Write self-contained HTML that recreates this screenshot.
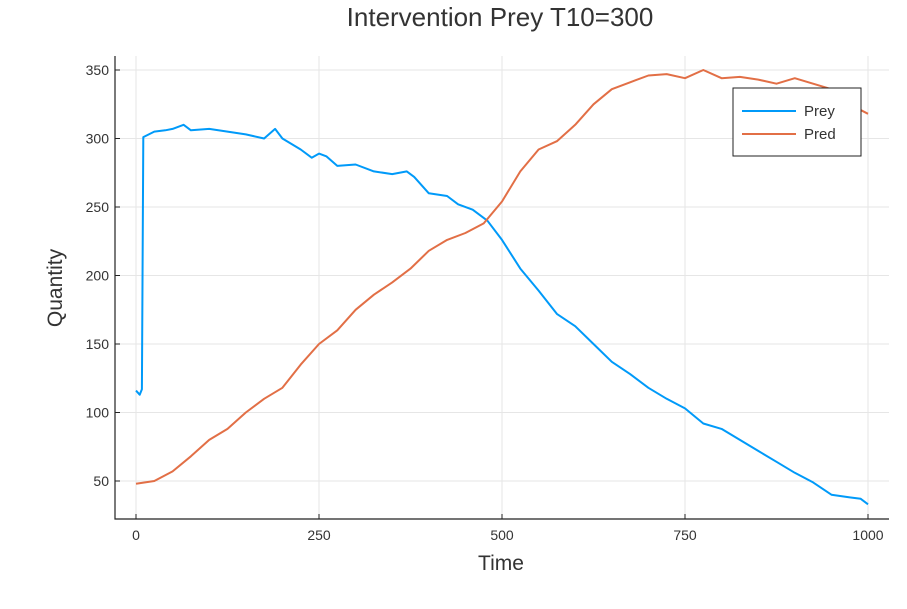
<!DOCTYPE html>
<html><head><meta charset="utf-8"><style>
body{margin:0;background:#fff;font-family:"Liberation Sans",sans-serif}
svg text{font-family:"Liberation Sans",sans-serif}
</style></head><body>
<svg id="chart" width="907" height="604"></svg>
<script>
const preyT=[0,5,8,10,25,40,50,65,75,100,125,150,175,190,200,225,240,250,260,275,300,325,350,370,380,400,425,440,460,480,500,525,550,575,600,625,650,675,700,725,750,775,800,825,850,875,900,925,950,975,990,1000];
const preyV=[116,113,117,301,305,306,307,310,306,307,305,303,300,307,300,292,286,289,287,280,281,276,274,276,272,260,258,252,248,240,226,205,189,172,163,150,137,128,118,110,103,92,88,80,72,64,56,49,40,38,37,33];
const predT=[0,25,50,75,100,125,150,175,200,225,250,275,300,325,350,375,400,425,450,475,500,525,550,575,600,625,650,675,700,725,750,775,800,825,850,875,900,925,950,975,1000];
const predV=[48,50,57,68,80,88,100,110,118,135,150,160,175,186,195,205,218,226,231,238,254,276,292,298,310,325,336,341,346,347,344,350,344,345,343,340,344,340,336,325,318];
const xTicks=[0,250,500,750,1000];
const yTicks=[50,100,150,200,250,300,350];
const NS="http://www.w3.org/2000/svg";
const svg=document.getElementById('chart');
const L=115,R=889,T=56,B=519;
const xs=v=>136+v*0.732;
const ys=v=>481-(v-50)*411/300;
function el(tag,attrs,txt){const e=document.createElementNS(NS,tag);for(const k in attrs)e.setAttribute(k,attrs[k]);if(txt!==undefined)e.textContent=txt;svg.appendChild(e);return e;}
xTicks.forEach(t=>{const g=el('line',{x1:xs(t),x2:xs(t),y1:T,y2:B,stroke:'#e6e6e6'});
const tk=el('line',{x1:xs(t),x2:xs(t),y1:B,y2:B-5,stroke:'#222'});
const lb=el('text',{x:xs(t),y:540,'text-anchor':'middle','font-size':14,fill:'#333'},t);});
yTicks.forEach(t=>{const g=el('line',{x1:L,x2:R,y1:ys(t),y2:ys(t),stroke:'#e6e6e6'});
const tk=el('line',{x1:L,x2:L+5,y1:ys(t),y2:ys(t),stroke:'#222'});
const lb=el('text',{x:L-6,y:ys(t)+5,'text-anchor':'end','font-size':14,fill:'#333'},t);});
const ax=el('path',{d:`M${L},${T}V${B}H${R}`,stroke:'#222',fill:'none','stroke-width':1.2});


function line(tv,vv,c,n){const d=tv.map((t,i)=>(i?'L':'M')+xs(t).toFixed(1)+','+ys(vv[i]).toFixed(1)).join('');const p=el('path',{d,stroke:c,fill:'none','stroke-width':2,'stroke-linejoin':'round'});}
line(preyT,preyV,'#009af9','prey-line');
line(predT,predV,'#e26f46','pred-line');
const ti=el('text',{x:500,y:26,'text-anchor':'middle','font-size':26,fill:'#333'},'Intervention Prey T10=300');


const xt=el('text',{x:501,y:570,'text-anchor':'middle','font-size':21,fill:'#333'},'Time');


const yt=el('text',{x:62,y:288,'text-anchor':'middle','font-size':21,fill:'#333',transform:'rotate(-90 62 288)'},'Quantity');


const lg=el('rect',{x:733,y:88,width:128,height:68,fill:'#fff',stroke:'#222'});


[['Prey','#009af9',111],['Pred','#e26f46',134]].forEach(([n,c,y])=>{const s=el('line',{x1:742,x2:796,y1:y,y2:y,stroke:c,'stroke-width':2});
const t=el('text',{x:804,y:y+5,'font-size':15,fill:'#333'},n);});
</script>
</body></html>
